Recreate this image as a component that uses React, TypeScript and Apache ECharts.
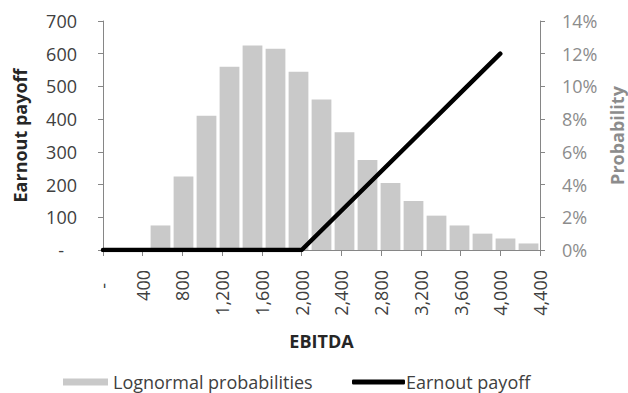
import React, { useEffect, useRef } from "react";
import * as echarts from "echarts";

// EBITDA histogram bins (19 equal bins across 0–4,400)
const binLabels = [
  "1", "2", "3", "4", "5", "6", "7", "8", "9", "10",
  "11", "12", "13", "14", "15", "16", "17", "18", "19",
];
// Lognormal probability of each bin
const binProbabilities = [
  0, 0, 0.015, 0.045, 0.082, 0.112, 0.125, 0.123, 0.109, 0.092,
  0.072, 0.055, 0.041, 0.03, 0.021, 0.015, 0.01, 0.007, 0.004,
];

// Earnout payoff schedule
const payoffEbitda = [0, 400, 800, 1200, 1600, 2000, 2400, 2800, 3200, 3600, 4000];
const payoffValues = [0, 0, 0, 0, 0, 0, 120, 240, 360, 480, 600];

const FONT = "'Open Sans', sans-serif";
const AXIS_GRAY = "#868686";
const W = 628;
const H = 393;

function fmtThousands(v: number): string {
  return Math.round(v).toString().replace(/\B(?=(\d{3})+(?!\d))/g, ",");
}

export default function App() {
  const ref = useRef<HTMLDivElement>(null);

  useEffect(() => {
    if (!ref.current) return;
    document.body.style.margin = "0";
    const chart = echarts.init(ref.current, null, { renderer: "svg", width: W, height: H });

    const dashRich = (color: string) => ({
      d: { padding: [0, 13, 0, 0], fontSize: 18, fontFamily: FONT, color },
    });

    chart.setOption({
      animation: false,
      backgroundColor: "#ffffff",
      grid: {
        left: 103,
        right: 88,
        top: 21,
        bottom: 143,
        containLabel: false,
        outerBoundsMode: "none",
      },
      legend: [
        {
          data: ["Lognormal probabilities"],
          left: 63,
          top: 372,
          padding: 0,
          icon: "rect",
          itemWidth: 45,
          itemHeight: 7,
          itemGap: 5,
          textStyle: { fontFamily: FONT, fontSize: 18, lineHeight: 20, color: "#404040" },
        },
        {
          data: ["Earnout payoff"],
          left: 352,
          top: 372,
          padding: 0,
          icon: "roundRect",
          itemWidth: 53,
          itemHeight: 5,
          textStyle: {
            fontFamily: FONT,
            fontSize: 18,
            lineHeight: 20,
            color: "#404040",
            padding: [0, 0, 0, -4],
          },
        },
      ],
      xAxis: [
        {
          type: "value",
          min: 0,
          max: 4400,
          interval: 400,
          position: "bottom",
          name: "EBITDA",
          nameLocation: "middle",
          nameGap: 82,
          nameTextStyle: {
            fontFamily: FONT,
            fontSize: 18,
            fontWeight: "bold",
            color: "#262626",
          },
          axisLine: { show: true, lineStyle: { color: AXIS_GRAY, width: 1 } },
          axisTick: { show: true, length: 6, lineStyle: { color: AXIS_GRAY } },
          splitLine: { show: false },
          axisLabel: {
            rotate: 90,
            margin: 20,
            fontFamily: FONT,
            fontSize: 18,
            color: "#404040",
            showMinLabel: true,
            showMaxLabel: true,
            formatter: (v: number) => (v === 0 ? "{d|-}" : fmtThousands(v)),
            rich: dashRich("#404040"),
          },
        },
        {
          type: "category",
          data: binLabels,
          show: false,
          boundaryGap: true,
        },
      ],
      yAxis: [
        {
          type: "value",
          min: 0,
          max: 700,
          interval: 100,
          name: "Earnout payoff",
          nameLocation: "middle",
          nameRotate: 90,
          nameGap: 74,
          nameTextStyle: {
            fontFamily: FONT,
            fontSize: 18,
            fontWeight: "bold",
            color: "#262626",
          },
          axisLine: { show: true, lineStyle: { color: AXIS_GRAY, width: 1 } },
          axisTick: { show: true, length: 5, lineStyle: { color: AXIS_GRAY } },
          splitLine: { show: false },
          axisLabel: {
            margin: 26,
            fontFamily: FONT,
            fontSize: 18,
            color: "#404040",
            formatter: (v: number) => (v === 0 ? "{d|-}" : fmtThousands(v)),
            rich: dashRich("#404040"),
          },
        },
        {
          type: "value",
          position: "right",
          min: 0,
          max: 0.14,
          interval: 0.02,
          name: "Probability",
          nameLocation: "middle",
          nameRotate: 90,
          nameGap: 67,
          nameTextStyle: {
            fontFamily: FONT,
            fontSize: 18,
            fontWeight: "bold",
            color: "#8c8c8c",
          },
          axisLine: { show: true, lineStyle: { color: AXIS_GRAY, width: 1 } },
          axisTick: { show: true, length: 5, lineStyle: { color: AXIS_GRAY } },
          splitLine: { show: false },
          axisLabel: {
            margin: 22,
            fontFamily: FONT,
            fontSize: 18,
            color: "#8c8c8c",
            formatter: (v: number) => Math.round(v * 100) + "%",
          },
        },
      ],
      series: [
        {
          name: "Lognormal probabilities",
          type: "bar",
          xAxisIndex: 1,
          yAxisIndex: 1,
          data: binProbabilities,
          barCategoryGap: "14%",
          itemStyle: { color: "#c9c9c9" },
          z: 1,
        },
        {
          name: "Earnout payoff",
          type: "line",
          xAxisIndex: 0,
          yAxisIndex: 0,
          data: payoffEbitda.map((x, i) => [x, payoffValues[i]]),
          symbol: "none",
          lineStyle: { color: "#000000", width: 4.5, cap: "round", join: "round" },
          itemStyle: { color: "#000000" },
          z: 3,
        },
      ],
    });

    return () => chart.dispose();
  }, []);

  return (
    <div
      ref={ref}
      style={{ position: "fixed", left: 0, top: 0, width: W, height: H, background: "#fff" }}
    />
  );
}
